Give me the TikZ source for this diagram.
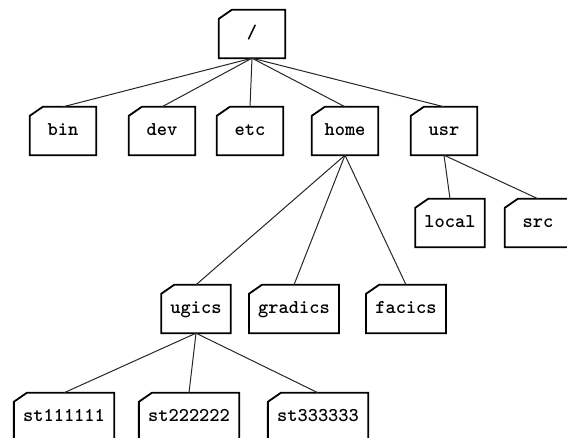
\documentclass[tikz,border=0pt]{standalone}
\usepackage{fontspec}
\usepackage{tikz}
\usetikzlibrary{calc}

\begin{document}
\begin{tikzpicture}[x=1pt,y=1pt]
          \tikzstyle{dir}=[rectangle,minimum height=48pt,minimum width=66pt,
            inner xsep=9pt,text height=13pt,text depth=4pt,
            font=\fontsize{19.5}{22}\selectfont\ttfamily\bfseries]
          \tikzstyle{folder}=[draw,line width=1.8pt,line join=miter]
          \tikzstyle{edge}=[draw,black!85,line width=1pt]
          \clip (0,0) rectangle (567,438);
          \node[dir] (root) at (252,404) {/};
          \node[dir] (bin) at (63,307) {bin};
          \node[dir] (dev) at (162,307) {dev};
          \node[dir] (etc) at (250,307) {etc};
          \node[dir] (home) at (345,307) {home};
          \node[dir] (usr) at (444,307) {usr};
          \node[dir] (local) at (450,215) {local};
          \node[dir] (src) at (538,215) {src};
          \node[dir] (ugics) at (196,129) {ugics};
          \node[dir] (gradics) at (294,129) {gradics};
          \node[dir] (facics) at (406,129) {facics};
          \node[dir] (st1) at (64,21) {st111111};
          \node[dir] (st2) at (189,21) {st222222};
          \node[dir] (st3) at (318,21) {st333333};
          % folder outlines, top left corner cut off
          \foreach \n in {root,bin,dev,etc,home,usr,local,src,ugics,gradics,facics,st1,st2,st3}{
            \draw[folder] ($(\n.north west)+(0,-9)$) -- ($(\n.north west)+(13,0)$)
              -- (\n.north east) -- (\n.south east) -- (\n.south west) -- cycle;
            }
          \foreach \c in {bin,dev,etc,home,usr}{
            \draw[edge] (root.south) -- (\c.north);
            }
          \foreach \c in {local,src}{
            \draw[edge] (usr.south) -- (\c.north);
            }
          \foreach \c in {ugics,gradics,facics}{
            \draw[edge] (home.south) -- (\c.north);
            }
          \foreach \c in {st1,st2,st3}{
            \draw[edge] (ugics.south) -- (\c.north);
            }
        \end{tikzpicture}
\end{document}
